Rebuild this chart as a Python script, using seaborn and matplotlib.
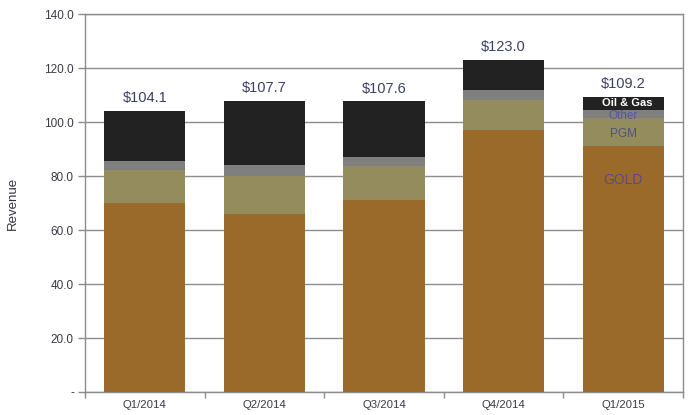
import matplotlib
matplotlib.use("Agg")
import matplotlib.pyplot as plt
import seaborn as sns
import numpy as np
import pandas as pd
from matplotlib.ticker import FixedLocator, FuncFormatter

quarters = ["Q1/2014", "Q2/2014", "Q3/2014", "Q4/2014", "Q1/2015"]
gold = [69.9, 65.8, 71.0, 97.0, 91.1]
pgm = [12.3, 14.2, 12.7, 11.1, 10.4]
other = [3.5, 4.1, 3.4, 3.8, 2.9]
oil_gas = [18.4, 23.6, 20.5, 11.1, 4.8]
totals = [104.1, 107.7, 107.6, 123.0, 109.2]
total_labels = ["$104.1", "$107.7", "$107.6", "$123.0", "$109.2"]

sns.set_theme(style="white")
plt.rcParams['font.family'] = ['Liberation Sans', 'DejaVu Sans']

fig = plt.figure(figsize=(6.89, 4.15), dpi=100)
ax = fig.add_axes([85/689, 23/415, 598/689, 378/415])

c_gold = "#996a2a"
c_pgm = "#958c5d"
c_other = "#7f7f7f"
c_oil = "#222222"

g = np.array(gold)
p = np.array(pgm)
o = np.array(other)
og = np.array(oil_gas)
layers = [
    ("Oil & Gas", g + p + o + og, c_oil),
    ("Other", g + p + o, c_other),
    ("PGM", g + p, c_pgm),
    ("GOLD", g, c_gold),
]
for name, vals, col in layers:
    df = pd.DataFrame({"Quarter": quarters, "Value": vals})
    sns.barplot(data=df, x="Quarter", y="Value", color=col, width=0.68,
                saturation=1, ax=ax, zorder=3, linewidth=0)

ax.set_xlim(-0.5, 4.5)
ax.set_ylim(0, 140)
ax.yaxis.set_major_locator(FixedLocator(np.arange(0, 141, 20)))
ax.yaxis.set_major_formatter(FuncFormatter(lambda v, pos: "-" if v == 0 else f"{v:.1f}"))
ax.grid(axis="y", color="#8c8c8c", linewidth=1, zorder=0)
ax.set_axisbelow(True)

for s in ["left", "right", "bottom", "top"]:
    ax.spines[s].set_color("#8c8c8c")
    ax.spines[s].set_linewidth(1)

ax.tick_params(axis="y", direction="out", length=5, width=1, color="#8c8c8c",
               labelsize=8.5, labelcolor="#3a3a48", pad=3, left=True)
ax.tick_params(axis="x", which="major", length=0, labelsize=8.2,
               labelcolor="#3a3a48", pad=6)
ax.set_xticks(np.arange(-0.5, 4.6, 1), minor=True)
ax.tick_params(axis="x", which="minor", direction="out", length=4, width=1,
               color="#8c8c8c", bottom=True)

ax.set_xlabel("")
ax.set_ylabel("Revenue", fontsize=9.5, color="#333340", labelpad=18)

for i, (t, lab) in enumerate(zip(totals, total_labels)):
    ax.text(i, t + 2.2, lab, ha="center", va="bottom", fontsize=10.5,
            color="#3d4068", zorder=5)

# segment labels inside the last bar
last = len(quarters) - 1
ax.text(last + 0.03, g[last] + p[last] + o[last] + og[last] / 2 + 0.4, "Oil & Gas",
        ha="center", va="center", fontsize=8, color="white", fontweight="bold", zorder=5)
ax.text(last, g[last] + p[last] + o[last] / 2 - 0.9, "Other", ha="center", va="center",
        fontsize=8.5, color="#55589a", zorder=5)
ax.text(last, g[last] + p[last] / 2 - 0.6, "PGM", ha="center", va="center",
        fontsize=8.5, color="#4b5577", zorder=5)
ax.text(last, 78.5, "GOLD", ha="center", va="center",
        fontsize=10, color="#5b4a90", zorder=5)

fig.savefig("out.png", dpi=100)
